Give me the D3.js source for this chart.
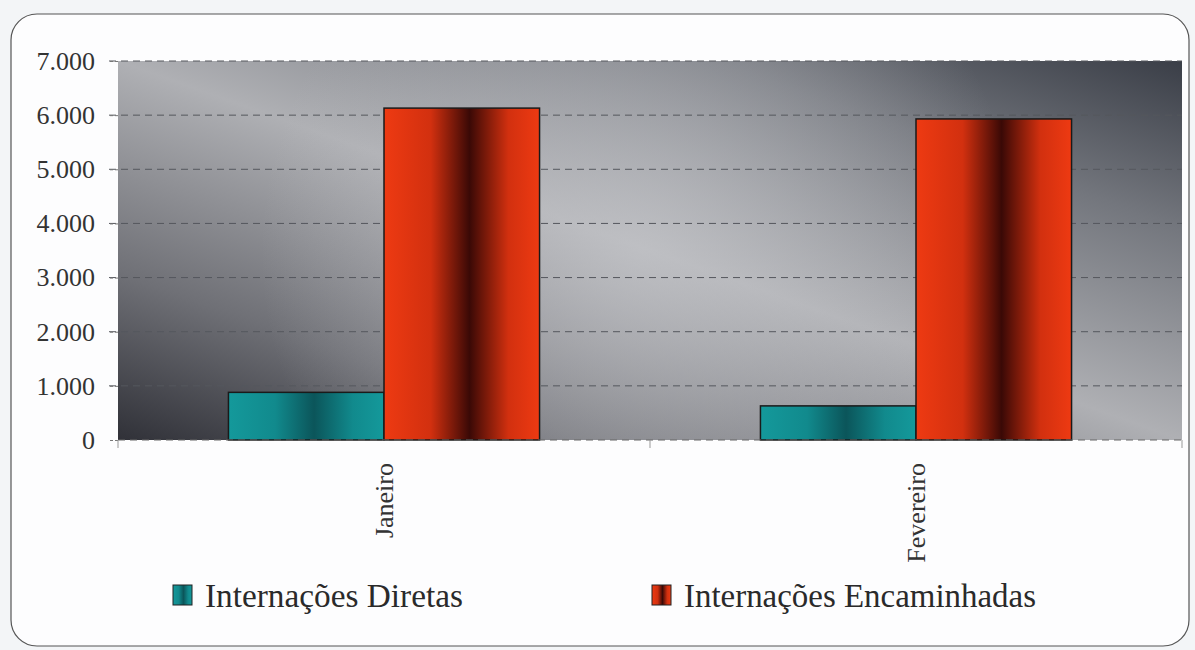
<!DOCTYPE html>
<html><head><meta charset="utf-8">
<script src="https://cdn.jsdelivr.net/npm/d3@7"></script>
</head><body>
<script>
const categories = ["Janeiro", "Fevereiro"];
const seriesNames = ["Internações Diretas", "Internações Encaminhadas"];
const diretas = [880, 630];
const encaminhadas = [6130, 5930];
const yTicks = [0, 1000, 2000, 3000, 4000, 5000, 6000, 7000];
const yTickLabels = ["0", "1.000", "2.000", "3.000", "4.000", "5.000", "6.000", "7.000"];

const FONT = "Liberation Serif";
const W = 1195, H = 650;
d3.select("body").style("margin", "0px").style("background", "#f3f5f7");
const svg = d3.select("body").append("svg").attr("width", W).attr("height", H).style("display", "block");
const defs = svg.append("defs");

svg.append("rect").attr("width", W).attr("height", H).attr("fill", "#f3f5f7");
// frame
svg.append("rect").attr("x", 11).attr("y", 14).attr("width", 1178).attr("height", 632)
  .attr("rx", 26).attr("fill", "#fdfdfe").attr("stroke", "#555").attr("stroke-width", 1.2);

const m = {left: 118, right: 1182, top: 61, bottom: 440};
const x = d3.scaleBand().domain(categories).range([m.left, m.right]);
const x1 = d3.scaleBand().domain(seriesNames).range([0, x.bandwidth()]).paddingOuter(0.71).paddingInner(0);
const y = d3.scaleLinear().domain([0, 7000]).range([m.bottom, m.top]);

// plot background: diagonal dark-light-dark plus central highlight
const lg = defs.append("linearGradient").attr("id", "bgd").attr("x1", 0).attr("y1", 1).attr("x2", 1).attr("y2", 0);
lg.append("stop").attr("offset", 0).attr("stop-color", "#303138");
lg.append("stop").attr("offset", 0.22).attr("stop-color", "#6f7076");
lg.append("stop").attr("offset", 0.5).attr("stop-color", "#afb0b4");
lg.append("stop").attr("offset", 0.78).attr("stop-color", "#73767d");
lg.append("stop").attr("offset", 1).attr("stop-color", "#3a3e47");
svg.append("rect").attr("x", m.left).attr("y", m.top).attr("width", m.right - m.left)
  .attr("height", m.bottom - m.top).attr("fill", "url(#bgd)");
const rg = defs.append("radialGradient").attr("id", "bgr").attr("gradientUnits", "userSpaceOnUse")
  .attr("cx", 640).attr("cy", 250).attr("r", 380);
rg.append("stop").attr("offset", 0).attr("stop-color", "#c8c9cd").attr("stop-opacity", 0.6);
rg.append("stop").attr("offset", 1).attr("stop-color", "#c8c9cd").attr("stop-opacity", 0);
svg.append("rect").attr("x", m.left).attr("y", m.top).attr("width", m.right - m.left)
  .attr("height", m.bottom - m.top).attr("fill", "url(#bgr)");

// grid
svg.append("g").selectAll("line").data(yTicks.slice(1)).join("line")
  .attr("x1", m.left - 9).attr("x2", m.right).attr("y1", d => y(d)).attr("y2", d => y(d))
  .attr("stroke", "#55575d").attr("stroke-width", 1).attr("stroke-dasharray", "7,5");

// y axis labels
const yAxis = d3.axisLeft(y).tickValues(yTicks).tickFormat((d, i) => yTickLabels[i]).tickSize(9).tickPadding(14);
const ga = svg.append("g").attr("transform", `translate(${m.left},0)`).call(yAxis);
ga.attr("font-family", null).attr("font-size", null);
ga.select(".domain").remove();
ga.selectAll(".tick line").attr("stroke", "#777").attr("stroke-dasharray", "3,2");
ga.selectAll("text").style("font-family", FONT).attr("font-size", 26).attr("fill", "#333");

// bar gradients
function barGrad(id, edge, dark, mid) {
  const g = defs.append("linearGradient").attr("id", id).attr("x1", 0).attr("x2", 1).attr("y1", 0).attr("y2", 0);
  g.append("stop").attr("offset", 0).attr("stop-color", edge);
  g.append("stop").attr("offset", 0.3).attr("stop-color", mid);
  g.append("stop").attr("offset", 0.55).attr("stop-color", dark);
  g.append("stop").attr("offset", 0.8).attr("stop-color", mid);
  g.append("stop").attr("offset", 1).attr("stop-color", edge);
}
barGrad("gTeal", "#14999b", "#0b555a", "#118a8d");
barGrad("gRed", "#ee3a12", "#3a0906", "#d2300f");
const colors = ["url(#gTeal)", "url(#gRed)"];

const data = categories.map((c, i) => ({c, vals: [diretas[i], encaminhadas[i]]}));
svg.append("g").selectAll("g").data(data).join("g")
  .attr("transform", d => `translate(${x(d.c)},0)`)
  .selectAll("rect").data(d => d.vals.map((v, j) => ({v, s: seriesNames[j], j}))).join("rect")
  .attr("x", d => x1(d.s)).attr("width", x1.bandwidth())
  .attr("y", d => y(d.v)).attr("height", d => y(0) - y(d.v))
  .attr("fill", d => colors[d.j]).attr("stroke", "#1a1a1a").attr("stroke-width", 1.5);

// baseline
svg.append("line").attr("x1", m.left).attr("x2", m.right).attr("y1", y(0)).attr("y2", y(0))
  .attr("stroke", "#666").attr("stroke-dasharray", "7,5");

// x ticks at band boundaries
svg.append("g").selectAll("line").data([m.left, m.left + x.bandwidth(), m.right]).join("line")
  .attr("x1", d => d).attr("x2", d => d).attr("y1", y(0)).attr("y2", y(0) + 8)
  .attr("stroke", "#999");

// category labels
svg.append("g").selectAll("text").data(categories).join("text")
  .attr("transform", d => `translate(${x(d) + x.bandwidth() / 2 + 9},${y(0) + 23}) rotate(-90)`)
  .attr("text-anchor", "end").style("font-family", FONT).attr("font-size", 26)
  .attr("fill", "#333").text(d => d);

// legend
const legX = [173, 652];
const legLen = [258, 352];
const lgd = svg.append("g").selectAll("g").data(seriesNames).join("g")
  .attr("transform", (d, i) => `translate(${legX[i]},585)`);
lgd.append("rect").attr("width", 19).attr("height", 20).attr("fill", (d, i) => colors[i])
  .attr("stroke", "#222").attr("stroke-width", 1);
lgd.append("text").attr("x", 32).attr("y", 22).style("font-family", FONT)
  .attr("font-size", 34).attr("fill", "#2a2a2a")
  .attr("textLength", (d, i) => legLen[i]).attr("lengthAdjust", "spacingAndGlyphs").text(d => d);
</script>
</body></html>
